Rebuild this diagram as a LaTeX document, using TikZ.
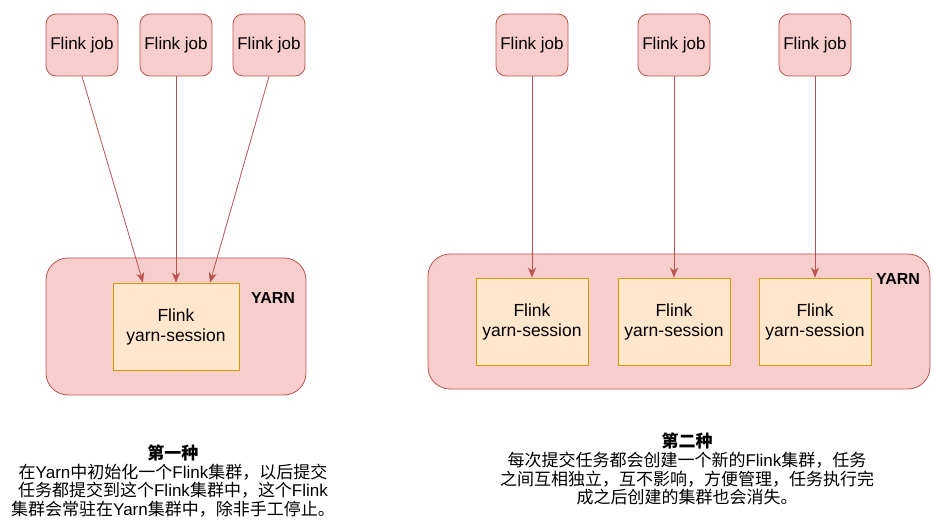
\documentclass[tikz,border=0pt]{standalone}
\usepackage{fontspec}
\setmainfont{Liberation Sans}
\newfontfamily\cjk{Noto Sans CJK SC}
\usetikzlibrary{arrows.meta}
\definecolor{jobfill}{HTML}{F8CECC}
\definecolor{jobline}{HTML}{B85450}
\definecolor{sessfill}{HTML}{FFE6CC}
\definecolor{sessline}{HTML}{D79B00}
\tikzset{font={\fontsize{17pt}{20}\selectfont}}
\newcommand{\en}[1]{{\rmfamily #1}}

\begin{document}
\begin{tikzpicture}[x=1pt,y=-1pt,
job/.style={draw=jobline,fill=jobfill,rounded corners=10pt,minimum width=72pt,minimum height=62pt,line width=0.8pt},
yarn/.style={draw=jobline,fill=jobfill,rounded corners=22pt,line width=0.8pt},
session/.style={draw=sessline,fill=sessfill,align=center,minimum height=87pt,line width=0.8pt,font={\fontsize{17.5pt}{20}\selectfont}},
arr/.style={draw=jobline,line width=0.8pt,-{Stealth[length=10pt,width=8pt,inset=3pt]}},
note/.style={align=center,inner sep=0pt,font={\cjk\fontsize{17pt}{18.8}\selectfont}}
]
\useasboundingbox (0,0) rectangle (935,521);

% first way: one session for all jobs
\node[yarn,minimum width=260pt,minimum height=137pt] (y1) at (176,326.5) {};
\node[font={\bfseries\fontsize{16pt}{19}\selectfont}] (l1) at (273,298) {YARN};
\node[session,minimum width=126pt] (s1) at (176,326.5) {Flink\\yarn-session};
\node[job] (j1) at (82,45) {Flink job};
\node[job] (j2) at (176,45) {Flink job};
\node[job] (j3) at (269,45) {Flink job};
\draw[arr] (j1.south) -- ([xshift=-33pt]s1.north);
\draw[arr] (j2.south) -- (s1.north);
\draw[arr] (j3.south) -- ([xshift=34pt]s1.north);

% second way: one session per job
\node[yarn,minimum width=502pt,minimum height=135pt] (y2) at (679,321.5) {};
\node[font={\bfseries\fontsize{16pt}{19}\selectfont}] (l2) at (898,279) {YARN};
\foreach \i/\x in {1/532,2/674,3/815}{
\node[job] (rj\i) at (\x,45) {Flink job};
\node[session,minimum width=112pt] (rs\i) at (\x,321.5) {Flink\\yarn-session};
\draw[arr] (rj\i.south) -- (rs\i.north);
}

\node[note] (t1) at (173,481) {{\bfseries 第一种}\\在\en{Yarn}中初始化一个\en{Flink}集群，以后提交\\任务都提交到这个\en{Flink}集群中，这个\en{Flink}\\集群会常驻在\en{Yarn}集群中，除非手工停止。};
\node[note] (t2) at (687,469) {{\bfseries 第二种}\\每次提交任务都会创建一个新的\en{Flink}集群，任务\\之间互相独立，互不影响，方便管理，任务执行完\\成之后创建的集群也会消失。};

\end{tikzpicture}
\end{document}
